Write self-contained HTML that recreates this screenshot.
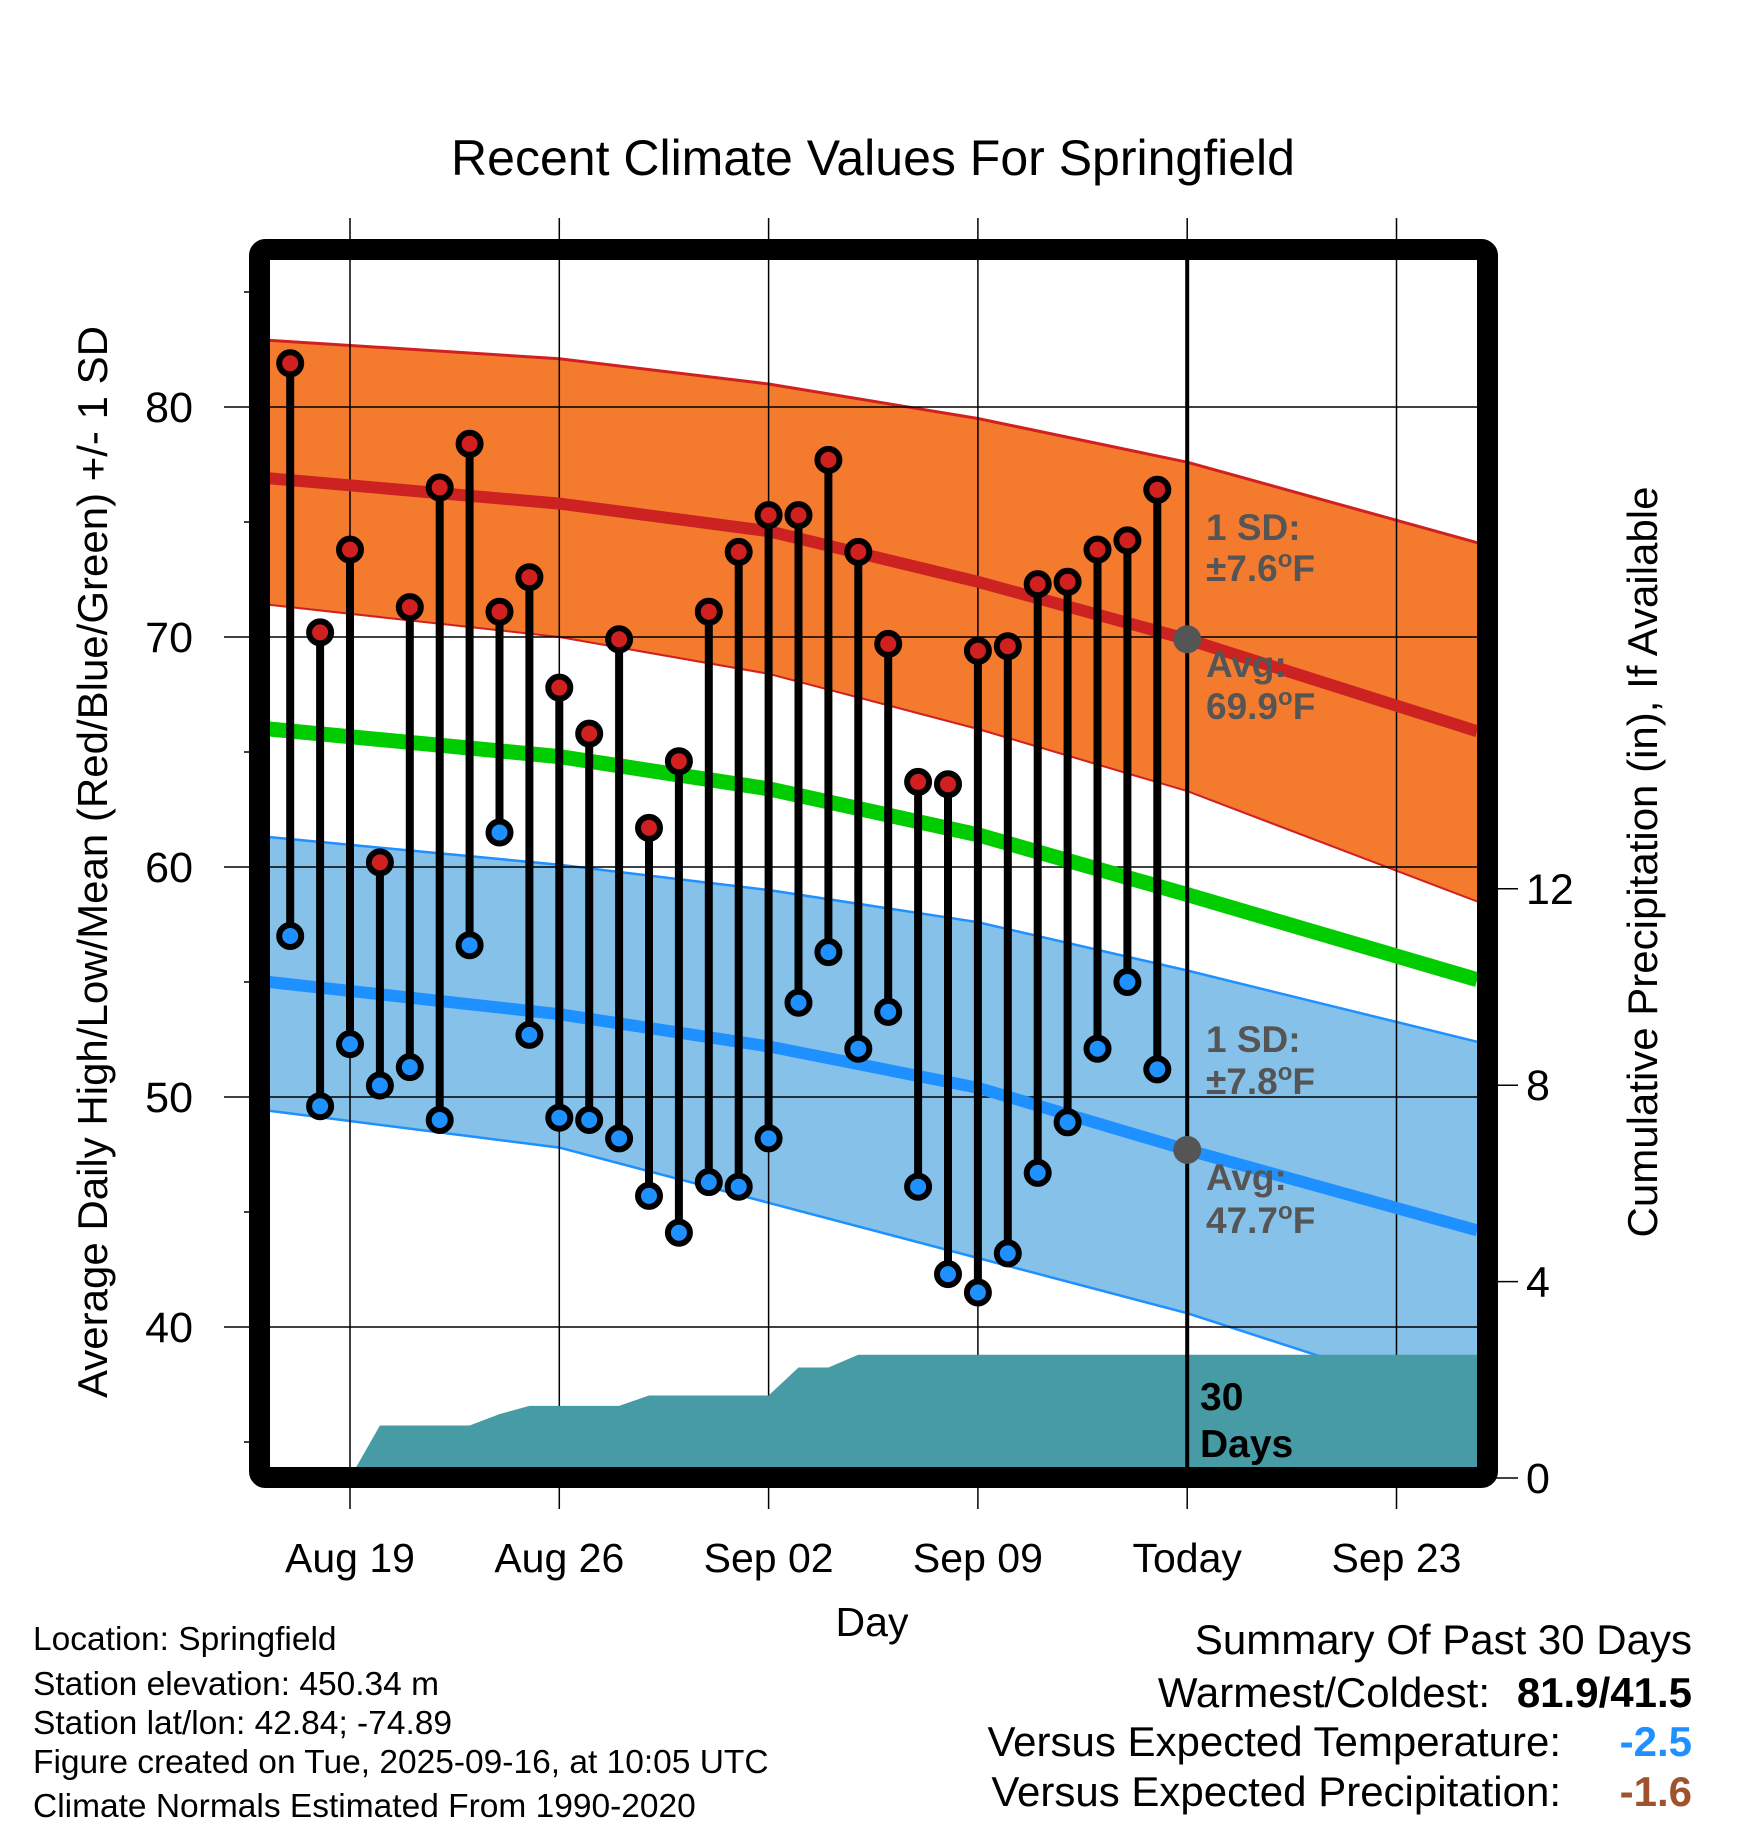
<!DOCTYPE html>
<html><head><meta charset="utf-8">
<style>
html,body{margin:0;padding:0;background:#fff;}
svg{display:block;font-family:"Liberation Sans",sans-serif;}
</style></head>
<body>
<svg id="chart" width="1748" height="1828" viewBox="0 0 1748 1828" xmlns="http://www.w3.org/2000/svg">
<defs><clipPath id="plotclip"><rect x="270" y="260" width="1208" height="1208"/></clipPath></defs>
<text x="873" y="175" text-anchor="middle" font-size="50">Recent Climate Values For Springfield</text>
<g id="bands" clip-path="url(#plotclip)"></g>
<g id="grid"></g>
<g id="lines" clip-path="url(#plotclip)"></g>
<g id="precip" clip-path="url(#plotclip)"></g>
<g id="stems"></g>
<g id="dots"></g>
<g id="axes"></g>
<g id="annot" font-size="37" font-weight="bold" fill="#555">
  <text x="1206" y="540">1 SD:</text>
  <text x="1206" y="581">±7.6<tspan font-size="24" dy="-14">o</tspan><tspan dy="14">F</tspan></text>
  <text x="1206" y="677">Avg:</text>
  <text x="1206" y="719">69.9<tspan font-size="24" dy="-14">o</tspan><tspan dy="14">F</tspan></text>
  <text x="1206" y="1052">1 SD:</text>
  <text x="1206" y="1094">±7.8<tspan font-size="24" dy="-14">o</tspan><tspan dy="14">F</tspan></text>
  <text x="1206" y="1190">Avg:</text>
  <text x="1206" y="1233">47.7<tspan font-size="24" dy="-14">o</tspan><tspan dy="14">F</tspan></text>
  <text x="1200" y="1410" font-size="39" fill="#000">30</text>
  <text x="1200" y="1457" font-size="39" fill="#000">Days</text>
</g>
<text transform="translate(107,862) rotate(-90)" text-anchor="middle" font-size="42">Average Daily High/Low/Mean (Red/Blue/Green) +/- 1 SD</text>
<text transform="translate(1657,862) rotate(-90)" text-anchor="middle" font-size="42">Cumulative Precipitation (in), If Available</text>
<text x="872" y="1636" text-anchor="middle" font-size="41">Day</text>
<g font-size="33.5">
<text x="33" y="1650">Location: Springfield</text>
<text x="33" y="1695">Station elevation: 450.34 m</text>
<text x="33" y="1734">Station lat/lon: 42.84; -74.89</text>
<text x="33" y="1773">Figure created on Tue, 2025-09-16, at 10:05 UTC</text>
<text x="33" y="1817">Climate Normals Estimated From 1990-2020</text>
</g>
<g font-size="42">
<text x="1692" y="1654" text-anchor="end">Summary Of Past 30 Days</text>
<text x="1490" y="1707" text-anchor="end">Warmest/Coldest:</text>
<text x="1692" y="1707" text-anchor="end" font-weight="bold">81.9/41.5</text>
<text x="1561" y="1756" text-anchor="end">Versus Expected Temperature:</text>
<text x="1692" y="1756" text-anchor="end" font-weight="bold" fill="#1e90ff">-2.5</text>
<text x="1561" y="1806" text-anchor="end">Versus Expected Precipitation:</text>
<text x="1692" y="1806" text-anchor="end" font-weight="bold" fill="#a0522d">-1.6</text>
</g>
</svg>
<script>
const highs=[81.9,70.2,73.8,60.2,71.3,76.5,78.4,71.1,72.6,67.8,65.8,69.9,61.7,64.6,71.1,73.7,75.3,75.3,77.7,73.7,69.7,63.7,63.6,69.4,69.6,72.3,72.4,73.8,74.2,76.4];
const lows=[57.0,49.6,52.3,50.5,51.3,49.0,56.6,61.5,52.7,49.1,49.0,48.2,45.7,44.1,46.3,46.1,48.2,54.1,56.3,52.1,53.7,46.1,42.3,41.5,43.2,46.7,48.9,52.1,55.0,51.2];
const firstDay=-2;
const normDays=[-2.7,7,14,21,28,37.7];
const avgHigh=[76.9,75.8,74.6,72.4,69.9,65.9];
const highUpper=[82.9,82.1,81.0,79.5,77.6,74.1];
const highLower=[71.4,70.0,68.4,66.0,63.3,58.5];
const meanTemp=[66.0,64.8,63.4,61.4,58.8,55.1];
const avgLow=[55.0,53.6,52.2,50.4,47.7,44.2];
const lowUpper=[61.3,60.1,59.0,57.6,55.5,52.4];
const lowLower=[49.4,47.8,45.4,43.0,40.6,36.5];
const precipDays=[-2,-1,0,1,2,3,4,5,6,7,8,9,10,11,12,13,14,15,16,17,18,19,20,21,22,23,24,25,26,27,37.7];
const precipVals=[0,0,0,1.07,1.07,1.07,1.07,1.30,1.47,1.47,1.47,1.47,1.68,1.68,1.68,1.68,1.68,2.25,2.25,2.51,2.51,2.51,2.51,2.51,2.51,2.51,2.51,2.51,2.51,2.51,2.51];
const xTickDays=[0,7,14,21,28,35];
const xTickLabels=["Aug 19","Aug 26","Sep 02","Sep 09","Today","Sep 23"];
const yTicks=[40,50,60,70,80];
const yMinor=[35,45,55,65,75,85];
const pTicks=[0,4,8,12];
const todayDay=28;

const X=d=>350+d*29.9;
const Y=t=>407+(80-t)*23;
const P=p=>1478-p*49.1;
const NS='http://www.w3.org/2000/svg';
function mk(tag,attrs,parent){const e=document.createElementNS(NS,tag);for(const k in attrs)e.setAttribute(k,attrs[k]);parent.appendChild(e);return e;}
const g=id=>document.getElementById(id);

function bandPath(up,lo){let d='';normDays.forEach((x,i)=>{d+=(i?'L':'M')+X(x)+','+Y(up[i]);});for(let i=normDays.length-1;i>=0;i--)d+='L'+X(normDays[i])+','+Y(lo[i]);return d+'Z';}
function linePts(arr){return normDays.map((x,i)=>X(x)+','+Y(arr[i])).join(' ');}

let e;
e=mk('path',{d:bandPath(highUpper,highLower),fill:'#f47a2e'},g('bands'));


e=mk('polyline',{points:linePts(highUpper),fill:'none',stroke:'#d02020','stroke-width':3},g('bands'));


e=mk('polyline',{points:linePts(highLower),fill:'none',stroke:'#d02020','stroke-width':2},g('bands'));


e=mk('path',{d:bandPath(lowUpper,lowLower),fill:'#85c1e8'},g('bands'));


e=mk('polyline',{points:linePts(lowUpper),fill:'none',stroke:'#1e90ff','stroke-width':2.5},g('bands'));


e=mk('polyline',{points:linePts(lowLower),fill:'none',stroke:'#1e90ff','stroke-width':2.5},g('bands'));



xTickDays.forEach((d,i)=>{
  const l=mk('line',{x1:X(d),x2:X(d),y1:218,y2:1509,stroke:'#000','stroke-width':1.5},g('grid'));
  
  
  const t=mk('text',{x:X(d),y:1572,'text-anchor':'middle','font-size':41},g('axes'));
  t.textContent=xTickLabels[i];
  
  
});
yTicks.forEach(v=>{
  const l=mk('line',{x1:224,x2:1478,y1:Y(v),y2:Y(v),stroke:'#000','stroke-width':1.5},g('grid'));
  
  
  const t=mk('text',{x:193,y:Y(v)+15,'text-anchor':'end','font-size':43},g('axes'));
  t.textContent=v;
  
  
});
yMinor.forEach(v=>{
  const l=mk('line',{x1:244,x2:260,y1:Y(v),y2:Y(v),stroke:'#000','stroke-width':1.5},g('grid'));
  
  
});
pTicks.forEach(v=>{
  const l=mk('line',{x1:1490,x2:1518,y1:P(v),y2:P(v),stroke:'#000','stroke-width':1.5},g('grid'));
  
  
  const t=mk('text',{x:1526,y:P(v)+15,'font-size':43},g('axes'));
  t.textContent=v;
  
  
});

e=mk('polyline',{points:linePts(avgHigh),fill:'none',stroke:'#cc2222','stroke-width':12},g('lines'));


e=mk('polyline',{points:linePts(meanTemp),fill:'none',stroke:'#00cc00','stroke-width':15},g('lines'));


e=mk('polyline',{points:linePts(avgLow),fill:'none',stroke:'#1e90ff','stroke-width':12},g('lines'));



let pd='M'+X(precipDays[0])+','+P(0);
precipDays.forEach((d,i)=>{pd+='L'+X(d)+','+P(precipVals[i]);});
pd+='L'+X(precipDays[precipDays.length-1])+','+P(0)+'Z';
e=mk('path',{d:pd,fill:'#479ba4'},g('precip'));



e=mk('line',{x1:X(todayDay),x2:X(todayDay),y1:260,y2:1468,stroke:'#000','stroke-width':4},g('stems'));



highs.forEach((h,i)=>{
  const x=X(firstDay+i);
  const s=mk('line',{x1:x,x2:x,y1:Y(h),y2:Y(lows[i]),stroke:'#000','stroke-width':8},g('stems'));
  
  
  const c1=mk('circle',{cx:x,cy:Y(h),r:11,fill:'#d02020',stroke:'#000','stroke-width':6},g('dots'));
  
  
  const c2=mk('circle',{cx:x,cy:Y(lows[i]),r:11,fill:'#1e90ff',stroke:'#000','stroke-width':6},g('dots'));
  
  
});
e=mk('circle',{cx:X(todayDay),cy:Y(69.9),r:14,fill:'#555'},g('dots'));


e=mk('circle',{cx:X(todayDay),cy:Y(47.7),r:14,fill:'#555'},g('dots'));



e=mk('rect',{x:259.5,y:249.5,width:1228,height:1228,fill:'none',stroke:'#000','stroke-width':21,rx:6},g('axes'));


</script>
</body></html>
